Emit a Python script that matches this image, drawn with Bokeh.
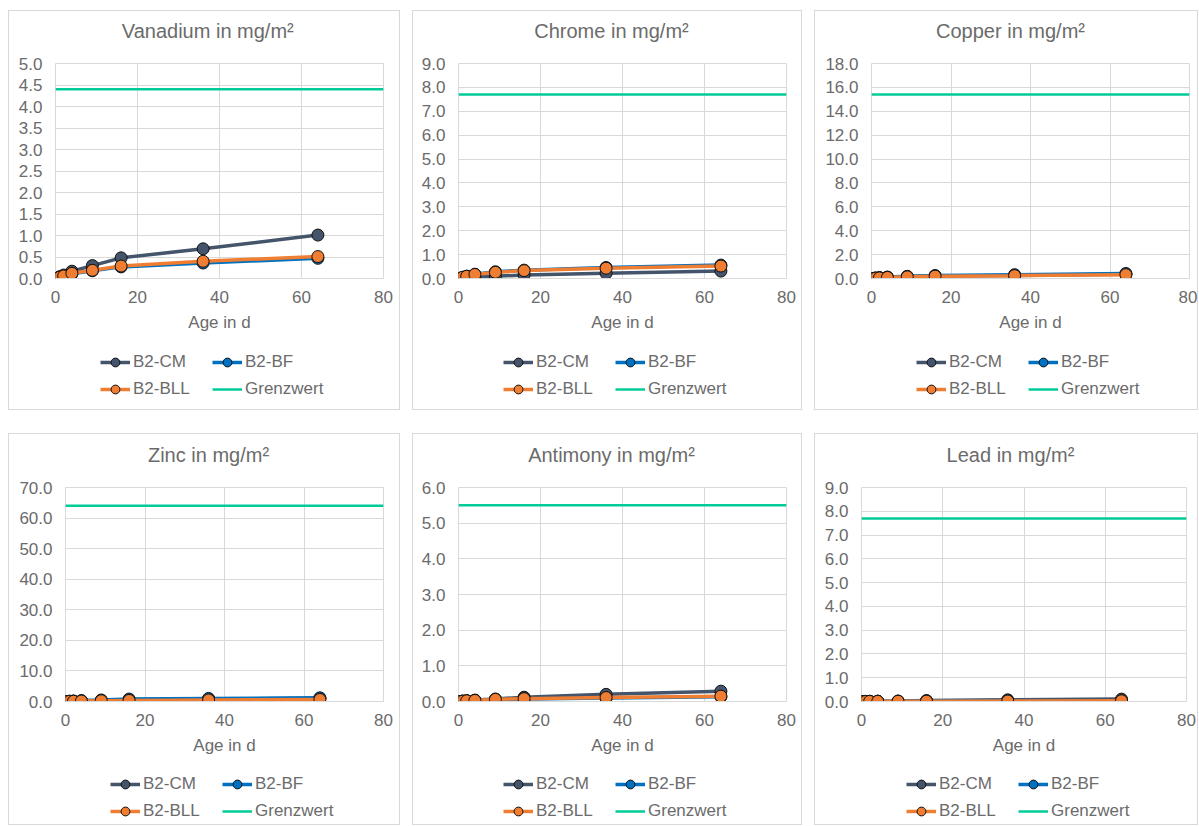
from bokeh.plotting import figure
from bokeh.models import Range1d, FixedTicker, NumeralTickFormatter, Legend, LegendItem, Title
from bokeh.layouts import row, column
from bokeh.embed import file_html
from bokeh.resources import INLINE

# ---------------- data ----------------
AGE = [0, 1, 2, 4, 9, 16, 36, 64]
LIMIT_X = [0, 80]
X_TICKS = [0, 20, 40, 60, 80]
SERIES = ["B2-CM", "B2-BF", "B2-BLL"]
LIMIT_NAME = "Grenzwert"
X_LABEL = "Age in d"

TITLES = ["Vanadium in mg/m²", "Chrome in mg/m²", "Copper in mg/m²",
          "Zinc in mg/m²", "Antimony in mg/m²", "Lead in mg/m²"]
Y_MAX = [5, 9, 18, 70, 6, 9]
Y_STEP = [0.5, 1, 2, 10, 1, 1]
LIMITS = [4.4, 7.7, 15.4, 64, 5.5, 7.7]

V_CM = [0, 0.04, 0.08, 0.17, 0.30, 0.48, 0.69, 1.01]
V_BF = [0, 0.03, 0.05, 0.11, 0.18, 0.27, 0.36, 0.47]
V_BLL = [0, 0.03, 0.06, 0.12, 0.19, 0.29, 0.40, 0.51]

CR_CM = [0, 0.02, 0.03, 0.06, 0.09, 0.15, 0.22, 0.31]
CR_BF = [0, 0.05, 0.10, 0.18, 0.28, 0.35, 0.46, 0.56]
CR_BLL = [0, 0.05, 0.09, 0.17, 0.26, 0.33, 0.43, 0.52]

CU_CM = [0, 0.03, 0.06, 0.10, 0.15, 0.20, 0.26, 0.36]
CU_BF = [0, 0.04, 0.07, 0.12, 0.18, 0.25, 0.32, 0.42]
CU_BLL = [0, 0.03, 0.05, 0.09, 0.14, 0.19, 0.24, 0.32]

ZN_CM = [0, 0.05, 0.10, 0.20, 0.35, 0.55, 0.80, 1.05]
ZN_BF = [0, 0.10, 0.15, 0.30, 0.50, 0.80, 1.00, 1.20]
ZN_BLL = [0, 0.05, 0.08, 0.15, 0.25, 0.35, 0.50, 0.65]

SB_CM = [0, 0.01, 0.02, 0.04, 0.07, 0.12, 0.20, 0.29]
SB_BF = [0, 0.01, 0.02, 0.03, 0.05, 0.07, 0.10, 0.13]
SB_BLL = [0, 0.01, 0.02, 0.03, 0.06, 0.08, 0.11, 0.15]

PB_CM = [0, 0.005, 0.01, 0.015, 0.02, 0.04, 0.07, 0.10]
PB_BF = [0, 0.003, 0.005, 0.01, 0.012, 0.018, 0.022, 0.03]
PB_BLL = [0, 0.002, 0.005, 0.008, 0.01, 0.015, 0.02, 0.03]

DATA = [(V_CM, V_BF, V_BLL), (CR_CM, CR_BF, CR_BLL), (CU_CM, CU_BF, CU_BLL),
        (ZN_CM, ZN_BF, ZN_BLL), (SB_CM, SB_BF, SB_BLL), (PB_CM, PB_BF, PB_BLL)]

# ---------------- style / geometry ----------------
COLORS = ["#44546A", "#0070C0", "#F07E32"]
LIMIT_COLOR = "#00CC99"
TEXT = "#6b6b6b"
GRID = "#d9d9d9"
FONT = "Liberation Sans"
TITLE_PX = 20
TITLE_GAP = 14              # spacer between frame and title

PANEL_W = [392, 390, 384]
BORDER_L = [[46, 45, 56], [56, 45, 46]]
BORDER_R = [[16, 15, 8], [16, 15, 11]]
PANEL_H = [400, 392]
BORDER_T = [52, 53]
FRAME_H = [215, 214]
AXIS_B = 62                 # space under the frame for the x axis
LEG_CENTERS = [[84, 111], [83, 110]]   # legend row centres below frame bottom
LEG_X = 45                  # legend x location (empirical offset)
LEG_ROW_H = 22

# Arial / Liberation Sans advance widths (1/1000 em) for centring titles
ADV = {"V": 667, "a": 556, "n": 556, "d": 556, "i": 222, "u": 556, "m": 833,
       " ": 278, "g": 556, "/": 278, "²": 333, "C": 722, "h": 556, "r": 333,
       "o": 556, "e": 556, "p": 556, "Z": 611, "c": 500, "A": 667, "t": 278,
       "y": 500, "L": 556}


def text_w(s, px):
    return sum(ADV.get(ch, 556) for ch in s) * px / 1000.0


def make_panel(i):
    r, c = divmod(i, 3)
    ymax, step = Y_MAX[i], Y_STEP[i]
    left, right = BORDER_L[r][c], BORDER_R[r][c]
    inner_w = PANEL_W[c] - 2
    inner_h = PANEL_H[r] - 2
    top = BORDER_T[r]
    main_h = top + FRAME_H[r] + AXIS_B
    leg_h = inner_h - main_h

    p = figure(width=inner_w, height=main_h, output_backend="svg", toolbar_location=None,
               x_range=Range1d(0, 80), y_range=Range1d(0, ymax),
               min_border_left=left, min_border_right=right,
               min_border_top=top, min_border_bottom=AXIS_B,
               background_fill_color="white", border_fill_color="white",
               outline_line_color=GRID)
    want_center = inner_w / 2 + 4
    off = want_center - text_w(TITLES[i], TITLE_PX) / 2 - left
    p.title = Title(text=TITLES[i], align="left", offset=off, text_font=FONT,
                    text_font_size=f"{TITLE_PX}px", text_font_style="normal",
                    text_color=TEXT)
    # spacer between the frame and the title
    p.add_layout(Title(text=" ", text_font_size="1px", standoff=TITLE_GAP), "above")

    nt = int(round(ymax / step))
    p.yaxis.ticker = FixedTicker(ticks=[k * step for k in range(nt + 1)])
    p.xaxis.ticker = FixedTicker(ticks=X_TICKS)
    p.yaxis.formatter = NumeralTickFormatter(format="0.0")
    for ax in (p.xaxis, p.yaxis):
        ax.major_tick_in = 0
        ax.major_tick_out = 0
        ax.minor_tick_in = 0
        ax.minor_tick_out = 0
        ax.major_label_text_font = FONT
        ax.major_label_text_font_size = "17px"
        ax.major_label_text_color = TEXT
    p.yaxis.axis_line_color = None
    p.xaxis.axis_line_color = GRID
    p.yaxis.major_label_standoff = 13
    p.xaxis.major_label_standoff = 12
    p.xaxis.axis_label = X_LABEL
    p.xaxis.axis_label_text_font = FONT
    p.xaxis.axis_label_text_font_size = "17px"
    p.xaxis.axis_label_text_font_style = "normal"
    p.xaxis.axis_label_text_color = TEXT
    p.xaxis.axis_label_standoff = 7
    p.xgrid.grid_line_color = GRID
    p.ygrid.grid_line_color = GRID

    for ys, col in zip(DATA[i], COLORS):
        p.line(AGE, ys, line_color=col, line_width=3.5)
        p.scatter(AGE, ys, size=12, fill_color=col, line_color="#111111", line_width=1)
    p.line(LIMIT_X, [LIMITS[i], LIMITS[i]], line_color=LIMIT_COLOR, line_width=2.5)

    # legend strip below the chart: same series drawn out of view, legend only
    lf = figure(width=inner_w, height=leg_h, output_backend="svg", toolbar_location=None,
                x_range=Range1d(1000, 1001), y_range=Range1d(1000, 1001),
                x_axis_type=None, y_axis_type=None,
                min_border=0, outline_line_color=None,
                background_fill_color="white", border_fill_color="white")
    lf.xgrid.visible = False
    lf.ygrid.visible = False
    items = []
    for name, ys, col in zip(SERIES, DATA[i], COLORS):
        lr = lf.line(AGE, ys, line_color=col, line_width=3.5)
        sr = lf.scatter(AGE, ys, size=12, fill_color=col, line_color="#111111", line_width=1)
        items.append(LegendItem(label=name, renderers=[lr, sr]))
    gr = lf.line(LIMIT_X, [LIMITS[i], LIMITS[i]], line_color=LIMIT_COLOR, line_width=2.5)
    items.append(LegendItem(label=LIMIT_NAME, renderers=[gr]))

    for k, its in enumerate([[items[0], items[1]], [items[2], items[3]]]):
        center_from_top = top + FRAME_H[r] + LEG_CENTERS[r][k] - main_h
        vy = leg_h - (center_from_top + LEG_ROW_H / 2)
        lg = Legend(items=its, orientation="horizontal", location=(LEG_X, vy),
                    padding=0, margin=0, spacing=5, glyph_width=30, glyph_height=LEG_ROW_H,
                    label_height=LEG_ROW_H, label_width=74, label_standoff=3,
                    label_text_font=FONT, label_text_font_size="17px",
                    label_text_color=TEXT, border_line_color=None,
                    background_fill_alpha=0)
        lf.add_layout(lg)

    return column(p, lf, spacing=0,
                  styles={"border": "1px solid #d9d9d9", "background": "white"})


panels = [make_panel(i) for i in range(6)]
layout = column(row(panels[0], panels[1], panels[2], spacing=12),
                row(panels[3], panels[4], panels[5], spacing=12),
                spacing=23, margin=(10, 0, 0, 8))

open("out.html", "w").write(file_html(layout, INLINE))
